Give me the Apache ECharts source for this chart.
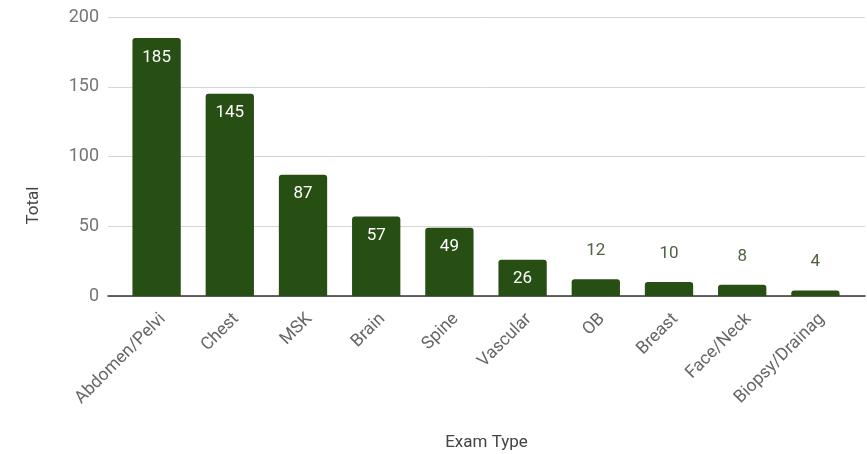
<!DOCTYPE html>
<html>
<head>
<meta charset="utf-8">
<script src="https://cdn.jsdelivr.net/npm/echarts@6/dist/echarts.min.js"></script>
<style>
  html, body { margin: 0; padding: 0; background: #fff; }
  #main { width: 867px; height: 454px; }
</style>
</head>
<body>
<div id="main"></div>
<script>
var dom = document.getElementById("main");
var myChart = echarts.init(dom);

var categories = ['Abdomen/Pelvi', 'Chest', 'MSK', 'Brain', 'Spine', 'Vascular', 'OB', 'Breast', 'Face/Neck', 'Biopsy/Drainag'];
var totals = [185, 145, 87, 57, 49, 26, 12, 10, 8, 4];
var yTicks = [0, 50, 100, 150, 200];

var barColor = '#274e13';
var font = 'Roboto';

// big bars get the label inside, small ones above
var seriesdata = totals.map(function (v) {
  var inside = v > 20;
  return {
    value: v,
    label: inside ? {
      position: 'insideTop', distance: 11, color: '#ffffff'
    } : {
      position: 'top', distance: 20, color: '#4f6341'
    }
  };
});

option = {
  backgroundColor: '#ffffff',
  textStyle: { fontFamily: font },
  grid: [
    { left: 108, right: 2, top: 17, bottom: 158, outerBoundsMode: 'none' },
    { left: 120, right: 15, top: 17, bottom: 158, outerBoundsMode: 'none' }
  ],
  xAxis: [
    {
      gridIndex: 0, type: 'value', min: 0, max: 1,
      axisLine: { show: true, onZero: true, lineStyle: { color: '#333333', width: 1.5 } },
      axisTick: { show: false }, axisLabel: { show: false }, splitLine: { show: false },
      name: 'Exam Type', nameLocation: 'middle', nameGap: 138,
      nameTextStyle: { color: '#444444', fontSize: 17, fontFamily: font }
    },
    {
      gridIndex: 1, type: 'category', data: categories,
      axisLine: { show: false }, axisTick: { show: false },
      axisLabel: {
        rotate: 45, interval: 0, margin: 14, verticalAlign: 'top',
        color: '#666666', fontSize: 17.5, fontFamily: font
      }
    }
  ],
  yAxis: [
    {
      gridIndex: 0, type: 'value', min: 0, max: 200, interval: 50,
      axisLine: { show: false }, axisTick: { show: false },
      axisLabel: {
        margin: 9, color: '#757575', fontSize: 18, fontFamily: font,
        formatter: function (v) { return yTicks.indexOf(v) >= 0 ? String(v) : ''; }
      },
      splitLine: { lineStyle: { color: '#d6d6d6', width: 1 } },
      name: 'Total', nameLocation: 'middle', nameGap: 66, nameRotate: 90,
      nameTextStyle: { color: '#444444', fontSize: 17, fontFamily: font, padding: [0, 98, 0, 0] }
    },
    {
      gridIndex: 1, type: 'value', min: 0, max: 200, show: false
    }
  ],
  series: [
    {
      name: 'Total',
      type: 'bar',
      xAxisIndex: 1,
      yAxisIndex: 1,
      barWidth: '66%',
      data: seriesdata,
      itemStyle: { color: barColor, borderRadius: [3, 3, 0, 0] },
      label: { show: true, fontSize: 17, fontFamily: font }
    }
  ]
};

myChart.setOption(option, true);
</script>
</body>
</html>
